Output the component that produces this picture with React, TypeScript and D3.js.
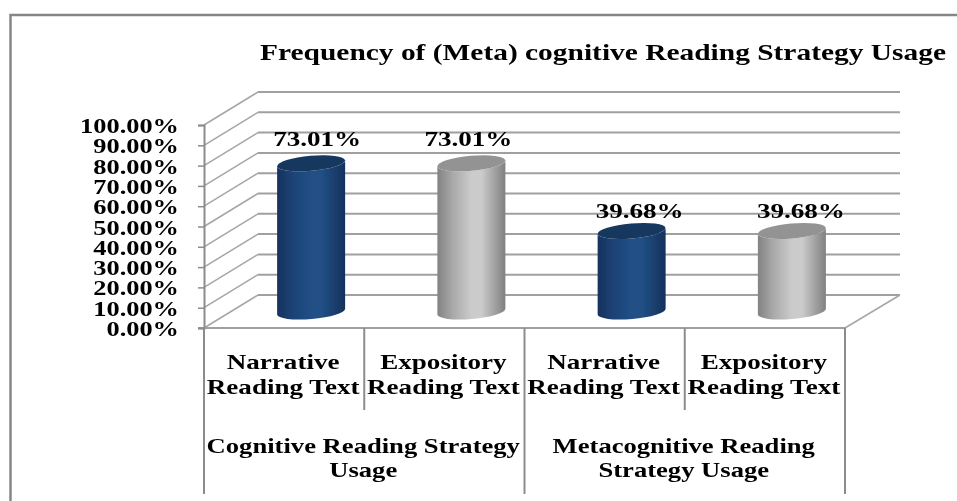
import { useEffect, useRef } from 'react';
import * as d3 from 'd3';

const title = 'Frequency of (Meta) cognitive Reading Strategy Usage';
const yTicks = [0, 10, 20, 30, 40, 50, 60, 70, 80, 90, 100];
const textTypes = ['Narrative|Reading Text', 'Expository|Reading Text', 'Narrative|Reading Text', 'Expository|Reading Text'];
const strategyGroups = ['Cognitive Reading Strategy|Usage', 'Metacognitive Reading|Strategy Usage'];
const usage = [73.01, 73.01, 39.68, 39.68];
const barKinds = ['blue', 'grey', 'blue', 'grey'];

const FONT = '"Liberation Serif", "Times New Roman", serif';

const App = () => {
    const chartRef = useRef<SVGSVGElement>(null);

    useEffect(() => {
        if (!chartRef.current) return;
        const svg = d3.select(chartRef.current);
        svg.selectAll('*').remove();

        const defs = svg.append('defs');
        const soft = defs.append('filter').attr('id', 'soft');
        soft.append('feGaussianBlur').attr('stdDeviation', 0.4);

        const addGradient = (id: string, edge: string, inner: string, mid: string, edgeR: string) => {
            const grad = defs.append('linearGradient').attr('id', id);
            grad.append('stop').attr('offset', '0%').attr('stop-color', edge);
            grad.append('stop').attr('offset', '22%').attr('stop-color', inner);
            grad.append('stop').attr('offset', '50%').attr('stop-color', mid);
            grad.append('stop').attr('offset', '65%').attr('stop-color', mid);
            grad.append('stop').attr('offset', '100%').attr('stop-color', edgeR);
        };
        addGradient('blue', '#16325c', '#1c4275', '#214f86', '#15315a');
        addGradient('grey', '#828282', '#a8a8a8', '#cbcbcb', '#808080');
        const topFill: Record<string, string> = { blue: '#17375e', grey: '#939393' };

        const root = svg.append('g').attr('filter', 'url(#soft)');

        // outer frame, only top and left show
        root.append('path')
            .attr('d', 'M957,15H10.5V501')
            .attr('fill', 'none')
            .attr('stroke', '#868686')
            .attr('stroke-width', 2.5);

        const stretched = (x: number, y: number, str: string, size: number, sx: number) =>
            root.append('text')
                .attr('transform', `translate(${x},${y}) scale(${sx},1)`)
                .attr('text-anchor', 'middle')
                .attr('font-family', FONT)
                .attr('font-weight', 700)
                .attr('font-size', size)
                .attr('fill', '#000')
                .text(str);

        stretched(603, 60, title, 23, 1.28);

        // 3d box: front plane and back wall
        const frontY = d3.scaleLinear().domain([0, 100]).range([328, 125]);
        const backY = d3.scaleLinear().domain([0, 100]).range([295, 92]);
        const barY = d3.scaleLinear().domain([0, 100]).range([311.5, 108.5]);
        const x = d3.scaleBand<number>().domain(d3.range(usage.length)).range([204, 845]);
        const frontLeft = 204, backLeft = 258, frontRight = 845, backRight = 900;

        yTicks.forEach(t => {
            root.append('line')
                .attr('x1', frontLeft).attr('y1', frontY(t))
                .attr('x2', backLeft).attr('y2', backY(t))
                .attr('stroke', '#a6a6a6').attr('stroke-width', 1.5);
            root.append('line')
                .attr('x1', backLeft).attr('y1', backY(t))
                .attr('x2', backRight).attr('y2', backY(t))
                .attr('stroke', '#a0a0a0').attr('stroke-width', 2);
        });
        root.append('line')
            .attr('x1', frontRight).attr('y1', frontY(0))
            .attr('x2', backRight).attr('y2', backY(0))
            .attr('stroke', '#a6a6a6').attr('stroke-width', 1.5);
        root.append('line')
            .attr('x1', frontLeft - 6).attr('y1', frontY(0))
            .attr('x2', frontRight).attr('y2', frontY(0))
            .attr('stroke', '#a0a0a0').attr('stroke-width', 2);

        // y axis
        const axis = root.append('g')
            .attr('transform', `translate(${frontLeft},0)`)
            .call(d3.axisLeft(frontY)
                .tickValues(yTicks)
                .tickSize(6)
                .tickFormat(d => `${(+d).toFixed(2)}%`));
        axis.select('.domain').attr('stroke', '#8c8c8c').attr('stroke-width', 2);
        axis.selectAll('.tick line').attr('stroke', '#8c8c8c').attr('stroke-width', 1.5);
        axis.selectAll('.tick text')
            .attr('x', 0).attr('dy', 0)
            .attr('transform', `translate(-25,7.5) scale(1.32,1)`)
            .attr('text-anchor', 'end')
            .attr('font-family', FONT)
            .attr('font-weight', 700)
            .attr('font-size', 20)
            .attr('fill', '#000');

        // category separators
        const bw = x.bandwidth();
        d3.range(usage.length + 1).forEach(i => {
            root.append('line')
                .attr('x1', frontLeft + i * bw).attr('x2', frontLeft + i * bw)
                .attr('y1', frontY(0)).attr('y2', i % 2 === 0 ? 494 : 410)
                .attr('stroke', '#8c8c8c').attr('stroke-width', 2);
        });

        // cylinders
        const rx = 34, ry = 7.5, tiltDeg = -5;
        const tiltDy = rx * Math.sin((tiltDeg * Math.PI) / 180);
        const labelNudge = [6, -3, 8, 9];
        const labelLift = [17.5, 17.5, 12.5, 12.5];
        usage.forEach((v, i) => {
            const cx = (x(i) as number) + bw / 2 + (backLeft - frontLeft) / 2;
            const l = cx - rx, r = cx + rx;
            const top = barY(v), bot = barY(0);
            root.append('path')
                .attr('d', `M${l},${top - tiltDy}L${l},${bot - tiltDy}A${rx},${ry} ${tiltDeg} 0 0 ${r},${bot + tiltDy}L${r},${top + tiltDy}A${rx},${ry} ${tiltDeg} 0 1 ${l},${top - tiltDy}Z`)
                .attr('fill', `url(#${barKinds[i]})`);
            root.append('ellipse')
                .attr('transform', `translate(${cx},${top}) rotate(${tiltDeg})`)
                .attr('rx', rx).attr('ry', ry)
                .attr('fill', topFill[barKinds[i]]);
            stretched(cx + labelNudge[i], top - labelLift[i], `${v.toFixed(2)}%`, 21, 1.29);
        });

        // two level category labels
        textTypes.forEach((label, i) => {
            const cx = (x(i) as number) + bw / 2;
            label.split('|').forEach((line, j) => stretched(cx - 1, 369 + j * 25, line, 22, 1.23));
        });
        strategyGroups.forEach((label, i) => {
            const cx = frontLeft + (2 * i + 1) * bw;
            label.split('|').forEach((line, j) => stretched(cx - 1, 453 + j * 24, line, 22, 1.21));
        });
    }, []);

    return (
        <svg
            ref={chartRef}
            width={957}
            height={501}
            style={{ position: 'fixed', left: 0, top: 0, background: '#fff' }}
        />
    );
};

export default App;
